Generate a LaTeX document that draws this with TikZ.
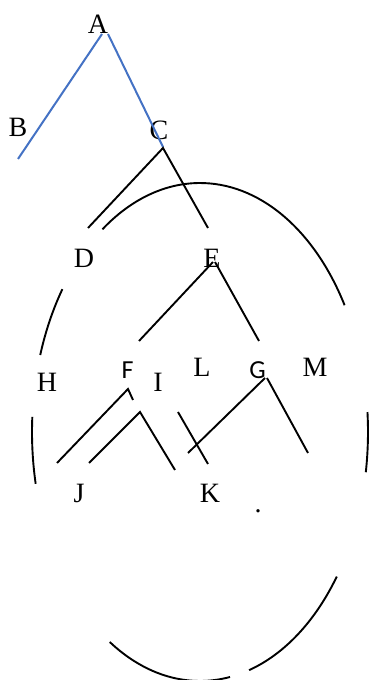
\documentclass[tikz,border=0pt]{standalone}
\usepackage{fontspec}
\setmainfont{Liberation Serif}
\newfontfamily\lblsans{Carlito}
\definecolor{edgeblue}{RGB}{68,114,196}
\begin{document}
\begin{tikzpicture}[x=1pt,y=1pt,
  lbl/.style={inner sep=0pt, font=\fontsize{28}{30}\selectfont},
  slbl/.style={inner sep=0pt, font=\lblsans\fontsize{26}{28}\selectfont},
  blueline/.style={draw=edgeblue, line width=2pt},
  blackline/.style={draw=black, line width=1.9pt},
  ellarc/.style={draw=black, line width=1.9pt}]
\clip (0,0) rectangle (369,680);
\useasboundingbox (0,0) rectangle (369,680);
% labels
\node[lbl] (A) at (98,655.5) {A};
\node[lbl] (B) at (18,553) {B};
\node[lbl] (C) at (159,550) {C};
\node[lbl] (D) at (84,422) {D};
\node[lbl] (E) at (212,422) {E};
\node[lbl] (H) at (47,298) {H};
\node[slbl] (F) at (127.5,309.5) {F};
\node[lbl] (I) at (158,298) {I};
\node[lbl] (L) at (202,313) {L};
\node[slbl] (G) at (257.5,309.5) {G};
\node[lbl] (M) at (315,313) {M};
\node[lbl] (J) at (79,187) {J};
\node[lbl] (K) at (210,187) {K};
\node[lbl] (P) at (258,169) {.};
% connector end points
\coordinate (a1) at (102,646);
\coordinate (a2) at (108,646);
\coordinate (b1) at (18,521);
\coordinate (c0) at (163,533);
\coordinate (c1) at (163,532);
\coordinate (d1) at (88,452);
\coordinate (e0) at (208,452);
\coordinate (e1) at (213,418);
\coordinate (e2) at (215,418);
\coordinate (f0) at (139,339);
\coordinate (g0) at (259,339);
\coordinate (f1) at (57,217);
\coordinate (f2) at (128,291);
\coordinate (f3) at (133,280);
\coordinate (j1) at (89,217);
\coordinate (j2) at (140,268);
\coordinate (j3) at (175,210);
\coordinate (i1) at (178,268);
\coordinate (i2) at (208,216);
\coordinate (g1) at (265,302);
\coordinate (g2) at (188,227);
\coordinate (g3) at (267,302);
\coordinate (g4) at (308,227);
% blue edges
\draw[blueline] (a1) -- (b1);
\draw[blueline] (a2) -- (c0);
% black edges
\draw[blackline] (d1) -- (c1) -- (e0);
\draw[blackline] (f0) -- (e1);
\draw[blackline] (e2) -- (g0);
\draw[blackline] (f1) -- (f2) -- (f3);
\draw[blackline] (j1) -- (j2) -- (j3);
\draw[blackline] (i1) -- (i2);
\draw[blackline] (g2) -- (g1);
\draw[blackline] (g3) -- (g4);
% ellipse pieces
\coordinate (ec) at (200,248);
\foreach \sa/\ea in {30.6/125.5, 145/162, 176.5/192, -9.3/4.6, -73/-35.5, 237.5/280.3}{
  \draw[ellarc] ([shift={(\sa:168 and 249)}]ec) arc[start angle=\sa, end angle=\ea, x radius=168, y radius=249];
}
\end{tikzpicture}
\end{document}
